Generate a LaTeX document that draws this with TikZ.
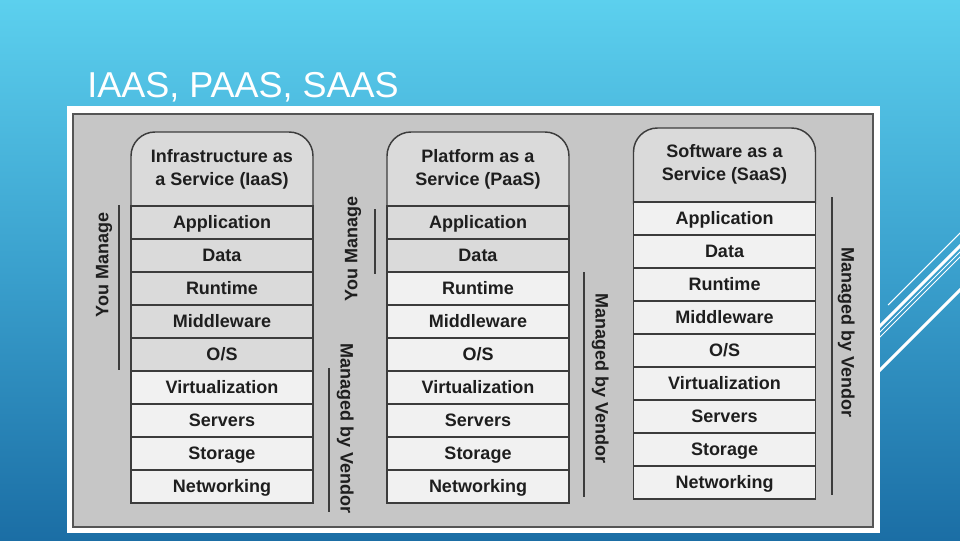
\documentclass[tikz,border=0pt]{standalone}
\usepackage{fontspec}
\setmainfont{Liberation Sans}
\definecolor{bgtop}{RGB}{92,208,238}
\definecolor{bgmid}{RGB}{58,160,205}
\definecolor{bgbot}{RGB}{27,110,165}
\definecolor{panel}{RGB}{198,198,198}
\definecolor{panelline}{RGB}{85,85,85}
\definecolor{linec}{RGB}{60,60,60}
\definecolor{darkrow}{RGB}{218,218,218}
\definecolor{lightrow}{RGB}{241,241,241}
\definecolor{txt}{RGB}{30,30,30}
\begin{document}
\begin{tikzpicture}[x=0.75pt,y=-0.75pt,
  lbl/.style={font=\bfseries\fontsize{13.5}{17.25}\selectfont, text=txt, inner sep=0pt},
  cell/.style={lbl, text height=9.7pt, text depth=0pt, draw=linec, line width=1.1pt, minimum width=136.5pt, minimum height=24.75pt},
  hdrbox/.style={draw=linec, line width=1.1pt, fill=darkrow, rounded corners=18pt, minimum width=136.5pt, minimum height=73.5pt, inner sep=0pt},
  hdrtext/.style={lbl, align=center},
  side/.style={lbl, text height=9.7pt, text depth=0pt},
  sideline/.style={draw=linec, line width=1.8pt},
  deco/.style={draw=white}
]
\useasboundingbox (0,0) rectangle (960,540);
% background
\shade[top color=bgtop, bottom color=bgbot, middle color=bgmid] (0,0) rectangle (960,540);
% decorative lines
\draw[deco, line width=0.8pt] (888,305) -- (965,228);
\draw[deco, line width=2.2pt] (870,336) -- (965,241);
\draw[deco, line width=0.7pt] (870,342) -- (965,247);
\draw[deco, line width=0.7pt] (870,347) -- (965,252);
\draw[deco, line width=2.2pt] (870,380) -- (965,285);
% title
\node[anchor=base west, text=white, font=\fontsize{27}{32}\selectfont, inner sep=0pt] (title) at (87,97) {IAAS, PAAS, SAAS};
% frame
\fill[white] (67,106) rectangle (880,533);
\filldraw[fill=panel, draw=panelline, line width=1.1pt] (73,114) rectangle (873,527);

% IaaS column
\node[hdrbox] (hI) at (222,181) {};
\node[hdrtext] (tI) at (222,169) {Infrastructure as\\a Service (IaaS)};
\foreach \t [count=\i] in {Application,Data,Runtime,Middleware,O/S,Virtualization,Servers,Storage,Networking}{
  \ifnum\i<6 \def\fc{darkrow}\else\def\fc{lightrow}\fi
  \node[cell, fill=\fc] (I\i) at (222,{206+33*(\i-0.5)}) {\t};
}
% PaaS column
\node[hdrbox] (hP) at (478,181) {};
\node[hdrtext] (tP) at (478,169) {Platform as a\\Service (PaaS)};
\foreach \t [count=\i] in {Application,Data,Runtime,Middleware,O/S,Virtualization,Servers,Storage,Networking}{
  \ifnum\i<3 \def\fc{darkrow}\else\def\fc{lightrow}\fi
  \node[cell, fill=\fc] (P\i) at (478,{206+33*(\i-0.5)}) {\t};
}
% SaaS column
\node[hdrbox] (hS) at (724.5,177) {};
\node[hdrtext] (tS) at (724.5,164.5) {Software as a\\Service (SaaS)};
\foreach \t [count=\i] in {Application,Data,Runtime,Middleware,O/S,Virtualization,Servers,Storage,Networking}{
  \node[cell, fill=lightrow] (S\i) at (724.5,{202+33*(\i-0.5)}) {\t};
}

% side labels
\node[side, rotate=90] (ym1) at (102,265) {You Manage};
\coordinate (ym1a) at (119,205); \coordinate (ym1b) at (119,370);
\draw[sideline] (ym1a) -- (ym1b);

\node[side, rotate=90] (ym2) at (351,249) {You Manage};
\coordinate (ym2a) at (375,209); \coordinate (ym2b) at (375,274);
\draw[sideline] (ym2a) -- (ym2b);

\node[side, rotate=-90] (mv1) at (347,428.5) {Managed by Vendor};
\coordinate (mv1a) at (329,368); \coordinate (mv1b) at (329,512);
\draw[sideline] (mv1a) -- (mv1b);

\node[side, rotate=-90] (mv2) at (602,378.5) {Managed by Vendor};
\coordinate (mv2a) at (584,272); \coordinate (mv2b) at (584,497);
\draw[sideline] (mv2a) -- (mv2b);

\node[side, rotate=-90] (mv3) at (848,332.5) {Managed by Vendor};
\coordinate (mv3a) at (832,197); \coordinate (mv3b) at (832,495);
\draw[sideline] (mv3a) -- (mv3b);
\end{tikzpicture}
\end{document}
